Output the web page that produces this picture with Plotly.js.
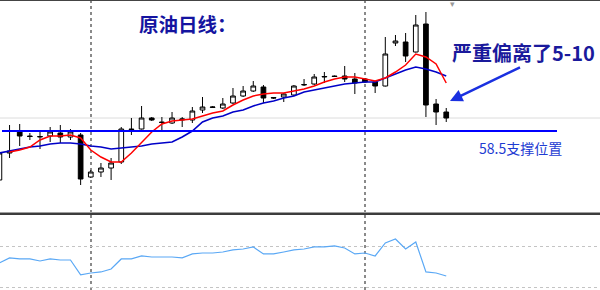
<!DOCTYPE html>
<html>
<head>
<meta charset="utf-8">
<script src="https://cdn.plot.ly/plotly-3.0.1.min.js"></script>
<style>html,body{margin:0;padding:0;background:#fff;}#chart{width:600px;height:290px;}</style>
</head>
<body>
<div id="chart"></div>
<script>
// Daily crude oil candles (index = trading day), prices
const openP  = [53.6,56.3,58.5,58.0,57.9,58.0,58.3,57.9,58.1,53.9,54.4,54.8,55.4,58.7,58.7,59.8,59.4,59.3,59.6,59.6,60.6,60.85,60.8,61.3,62.0,62.5,62.9,61.85,61.9,62.1,63.1,63.2,63.9,64.0,64.0,63.7,63.7,63.4,63.0,67.3,67.4,66.4,69.2,61.2,60.4];
const highP  = [56.6,59.1,59.2,58.3,58.5,58.9,59.1,58.7,58.3,54.6,55.3,55.8,58.9,59.8,61.0,59.9,59.9,60.4,59.9,60.9,61.9,61.0,61.8,62.8,63.0,63.5,63.1,61.9,62.3,63.1,63.7,64.2,64.4,64.05,65.0,64.3,63.8,63.5,67.9,68.1,68.3,70.1,70.4,61.7,60.8];
const lowP   = [53.4,55.8,57.0,57.6,56.7,57.4,57.3,57.6,53.1,53.8,53.9,53.6,55.2,58.1,58.65,59.5,58.4,59.2,58.9,59.3,60.3,60.8,60.7,61.2,61.9,62.4,61.3,61.7,61.4,62.0,63.0,63.1,63.3,63.9,63.4,62.2,63.3,62.3,62.95,67.0,65.4,66.35,59.9,59.1,59.4];
const closeP = [56.3,56.5,58.0,57.95,57.95,58.4,57.9,58.4,53.7,54.4,54.8,55.3,58.7,58.65,59.8,59.6,59.35,59.8,59.7,60.5,60.9,60.9,61.2,62.0,62.5,63.0,61.8,61.8,62.2,63.0,63.15,63.9,63.95,63.95,63.7,63.3,63.4,63.0,66.2,67.5,66.0,69.1,61.1,60.4,59.8];
// Moving averages (red = fast, blue = slow)
const maFast = [null,56.4,56.6,56.9,57.6,58.0,58.0,58.1,57.8,56.6,55.9,55.4,55.4,56.3,57.4,58.4,59.2,59.5,59.6,59.7,60.0,60.3,60.5,61.1,61.6,62.0,62.2,62.3,62.3,62.5,62.7,63.0,63.4,63.7,63.9,63.9,63.7,63.5,63.8,64.4,65.1,66.2,65.9,65.2,63.3];
const maSlow = [56.3,56.5,56.7,56.9,57.0,57.2,57.3,57.3,57.2,57.0,56.9,56.7,56.8,56.9,57.0,57.2,57.3,57.4,57.9,58.5,59.4,59.8,60.0,60.4,60.6,61.0,61.3,61.5,61.8,62.0,62.4,62.6,62.8,63.0,63.2,63.3,63.4,63.4,63.8,64.2,64.6,64.9,64.7,64.4,64.0];
// Oscillator in the lower panel
const rsi = [54.4,59.3,58.3,58.3,56.3,58.3,57.3,57.3,42.7,44.6,45.6,48.5,58.3,58.3,61.2,60.2,60.2,60.2,59.3,63.2,64.1,64.1,65.1,67.1,68.0,70.0,63.2,63.2,65.1,67.1,68.0,70.0,70.0,71.0,69.0,63.2,64.1,61.2,73.9,77.8,68.0,74.9,45.6,44.6,41.7];
const rsiLevels = [30, 70];
const periodStarts = [9, 36];
const supportLevel = 58.5;
const titleText = '原油日线：';
const noteText = '严重偏离了5-10';
const supportText = '58.5支撑位置';

const days = openP.map((_, i) => i);
const W = 600, H = 290;
const cjk = '"Noto Sans CJK SC", "Noto Sans", sans-serif';

const traces = [
  {
    type: 'candlestick', x: days, open: openP, high: highP, low: lowP, close: closeP,
    xaxis: 'x', yaxis: 'y',
    increasing: {line: {color: '#000', width: 1}, fillcolor: '#ffffff'},
    decreasing: {line: {color: '#000', width: 1}, fillcolor: '#000000'},
    whiskerwidth: 0, hoverinfo: 'skip'
  },
  {type: 'scatter', mode: 'lines', x: days, y: maSlow, line: {color: '#0000c8', width: 1.6}, xaxis: 'x', yaxis: 'y', hoverinfo: 'skip'},
  {type: 'scatter', mode: 'lines', x: days, y: maFast, line: {color: '#ff0000', width: 1.5}, xaxis: 'x', yaxis: 'y', hoverinfo: 'skip', connectgaps: false},
  {type: 'scatter', mode: 'lines', x: days, y: rsi, line: {color: '#5aa8f5', width: 1.2}, xaxis: 'x', yaxis: 'y2', hoverinfo: 'skip'}
];

const layout = {
  width: W, height: H,
  margin: {l: 0, r: 0, t: 0, b: 0, pad: 0},
  paper_bgcolor: '#ffffff', plot_bgcolor: '#ffffff',
  showlegend: false,
  boxgap: 0.34,
  xaxis: {
    range: [0.06, 59.14], showticklabels: false, ticks: '', tickvals: periodStarts,
    showgrid: true, gridcolor: '#8a8a8a', griddash: 'dot', gridwidth: 2,
    zeroline: false, showline: false, rangeslider: {visible: false}, fixedrange: true
  },
  yaxis: {
    domain: [1 - 213 / H, 1], range: [50.3, 71.6],
    showgrid: false, showticklabels: false, zeroline: false, showline: false, fixedrange: true
  },
  yaxis2: {
    domain: [0, 1 - 215 / H], range: [28.0, 101.2],
    tickvals: rsiLevels, showgrid: true, gridcolor: '#c4c4c4', griddash: 'dot', gridwidth: 1,
    showticklabels: false, ticks: '', zeroline: false, showline: false, fixedrange: true
  },
  shapes: [
    {type: 'line', xref: 'paper', yref: 'y', x0: 0, x1: 1, y0: closeP[closeP.length - 1], y1: closeP[closeP.length - 1], line: {color: '#dcdcdc', width: 1}, layer: 'below'},
    {type: 'line', xref: 'paper', yref: 'y', x0: 2 / W, x1: 557 / W, y0: supportLevel, y1: supportLevel, line: {color: '#0000ff', width: 2}},
    {type: 'line', xref: 'paper', yref: 'paper', x0: 0, x1: 1, y0: 1 - 212.5 / H, y1: 1 - 212.5 / H, line: {color: '#a0a0a0', width: 1}},
    {type: 'line', xref: 'paper', yref: 'paper', x0: 0, x1: 1, y0: 1 - 214 / H, y1: 1 - 214 / H, line: {color: '#3c3c3c', width: 2}},
    {type: 'line', xref: 'paper', yref: 'paper', x0: 0, x1: 1, y0: 1, y1: 1, line: {color: '#444', width: 2}}
  ],
  annotations: [
    {xref: 'paper', yref: 'paper', x: 137 / W, y: 1 - 23 / H, xanchor: 'left', yanchor: 'middle', showarrow: false,
     text: titleText, font: {family: cjk, size: 19.5, color: '#1414a0', weight: 'bold'}},
    {xref: 'paper', yref: 'paper', x: 450 / W, y: 1 - 52 / H, xanchor: 'left', yanchor: 'middle', showarrow: false,
     text: noteText, font: {family: cjk, size: 20, color: '#1a1a9c', weight: 'bold'}},
    {xref: 'paper', yref: 'paper', x: 477 / W, y: 1 - 148 / H, xanchor: 'left', yanchor: 'middle', showarrow: false,
     text: supportText, font: {family: cjk, size: 14, color: '#1e3cd2'}},
    {xref: 'paper', yref: 'paper', x: 450 / W, y: 1 - 101 / H, text: ' ', showarrow: true,
     axref: 'pixel', ayref: 'pixel', ax: 73, ay: -35, arrowhead: 2, arrowsize: 1, arrowwidth: 2.5, arrowcolor: '#1a30e0', standoff: 0},
    {xref: 'paper', yref: 'paper', x: 452 / W, y: 1.01, xanchor: 'center', yanchor: 'top', showarrow: false,
     text: '▾', font: {family: 'DejaVu Sans', size: 9, color: '#9a9a9a'}}
  ]
};

Plotly.newPlot('chart', traces, layout, {staticPlot: true, displayModeBar: false});
</script>
</body>
</html>
